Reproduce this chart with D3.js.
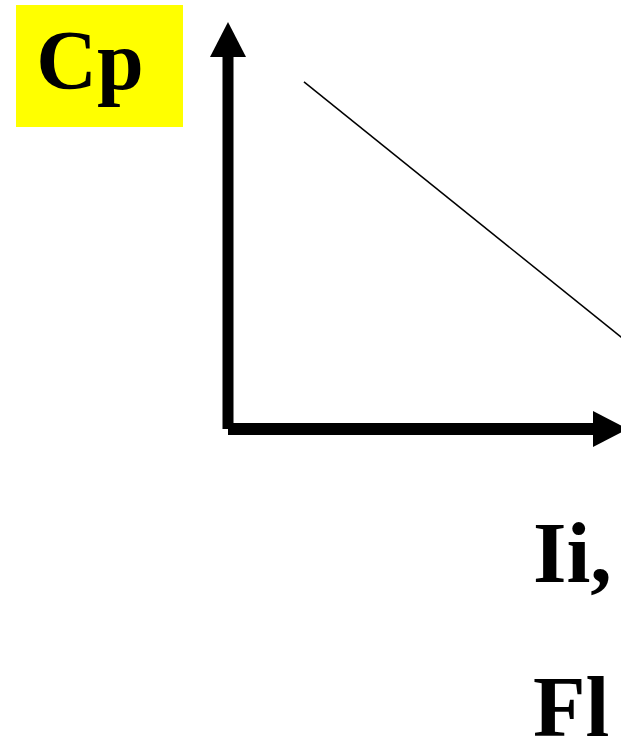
<!DOCTYPE html>
<html>
<head>
<meta charset="utf-8">
<script src="https://cdn.jsdelivr.net/npm/d3@7"></script>
<style>
  html, body { margin: 0; padding: 0; background: #fff; overflow: hidden; }
</style>
</head>
<body>
<div id="container"></div>
<script>
/* CONSTANTS AND GLOBALS */
const width = 621;
const height = 736;
const origin = { x: 228, y: 429 };

// data: the falling line (x, y in axis units)
const lineX = [19, 100];
const lineY = [85.3, 21.2];
const yLabel = "Cp";
const xLabels = ["Ii,", "Fl"];

/* SCALES */
const xScale = d3.scaleLinear()
  .domain([0, 100])
  .range([origin.x, origin.x + 400]);

const yScale = d3.scaleLinear()
  .domain([0, 100])
  .range([origin.y, 22]);

/* SVG */
const svg = d3.select("#container")
  .append("svg")
  .attr("width", width)
  .attr("height", height)
  .style("display", "block");

// y label box
svg.append("rect")
  .attr("x", 16).attr("y", 5)
  .attr("width", 167).attr("height", 122)
  .attr("fill", "#ffff00");

svg.append("text")
  .attr("x", 90).attr("y", 89)
  .attr("text-anchor", "middle")
  .attr("font-family", "'Liberation Serif', 'Times New Roman', serif")
  .attr("font-weight", "bold")
  .attr("font-size", 84)
  .text(yLabel);

// axes with arrowheads
const axisY0 = xScale(0);
const axisX0 = yScale(0);
const yTop = yScale(100);
const xEnd = xScale(100);

svg.append("line")
  .attr("x1", axisY0).attr("y1", axisX0)
  .attr("x2", axisY0).attr("y2", yTop + 30)
  .attr("stroke", "#000").attr("stroke-width", 11);

svg.append("path")
  .attr("d", `M${axisY0},${yTop} L${axisY0 + 18},${yTop + 35} L${axisY0 - 18},${yTop + 35} Z`)
  .attr("fill", "#000");

svg.append("line")
  .attr("x1", axisY0).attr("y1", axisX0)
  .attr("x2", xEnd - 30).attr("y2", axisX0)
  .attr("stroke", "#000").attr("stroke-width", 12);

svg.append("path")
  .attr("d", `M${xEnd},${axisX0} L${xEnd - 35},${axisX0 - 18} L${xEnd - 35},${axisX0 + 18} Z`)
  .attr("fill", "#000");

// data line
const line = d3.line()
  .x(d => xScale(d[0]))
  .y(d => yScale(d[1]));

svg.append("path")
  .datum(d3.zip(lineX, lineY))
  .attr("d", line)
  .attr("fill", "none")
  .attr("stroke", "#000")
  .attr("stroke-width", 1.5);

// x labels (the second one runs off the bottom edge, as in the original)
svg.selectAll("text.xlab")
  .data(xLabels)
  .join("text")
  .attr("class", "xlab")
  .attr("x", 533)
  .attr("y", (d, i) => 582 + i * 154)
  .attr("font-family", "'Liberation Serif', 'Times New Roman', serif")
  .attr("font-weight", "bold")
  .attr("font-size", 86)
  .text(d => d);
</script>
</body>
</html>
